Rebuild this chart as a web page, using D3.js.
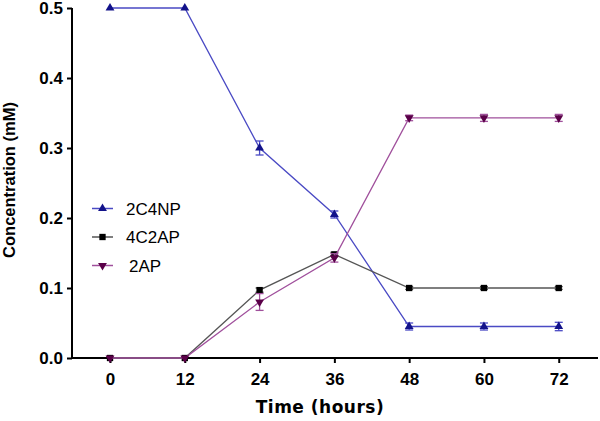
<!DOCTYPE html>
<html><head><meta charset="utf-8">
<script src="https://cdn.jsdelivr.net/npm/d3@7"></script>
<style>body{margin:0;background:#fff}svg{display:block}</style>
</head><body>
<svg id="c" width="600" height="421"></svg>
<script>
const times = [0, 12, 24, 36, 48, 60, 72];
const xTicks = [0, 12, 24, 36, 48, 60, 72];
const yTicks = [0.0, 0.1, 0.2, 0.3, 0.4, 0.5];
const c2c4np = [0.5, 0.5, 0.30, 0.205, 0.045, 0.045, 0.045];
const c2c4npErr = [0, 0, 0.01, 0.005, 0.005, 0.005, 0.006];
const c4c2ap = [0, 0, 0.097, 0.148, 0.1, 0.1, 0.1];
const c4c2apErr = [0, 0, 0.003, 0.003, 0.002, 0.002, 0.002];
const c2ap = [0, 0, 0.08, 0.143, 0.343, 0.343, 0.343];
const c2apErr = [0, 0, 0.012, 0.006, 0.004, 0.005, 0.005];
const seriesNames = ["2C4NP", "4C2AP", "2AP"];

const series = [
  {name: seriesNames[0], vals: c2c4np, err: c2c4npErr, line: "#4a4ac4", mark: "#12128a", sym: "up"},
  {name: seriesNames[1], vals: c4c2ap, err: c4c2apErr, line: "#555555", mark: "#000000", sym: "sq"},
  {name: seriesNames[2], vals: c2ap, err: c2apErr, line: "#a0509c", mark: "#5a0048", sym: "down"}
];

const svg = d3.select("#c");
const x = d3.scaleLinear().domain([-6.1, 78.3]).range([72, 598]);
const y = d3.scaleLinear().domain([0, 0.5]).range([358, 8]);
const font = "Arial, 'Liberation Sans', sans-serif";

// axes
const ya = svg.append("g").attr("transform", "translate(72,0)")
  .call(d3.axisLeft(y).tickValues(yTicks).tickFormat(d3.format(".1f")).tickSize(5).tickSizeOuter(0));
const xa = svg.append("g").attr("transform", "translate(0,358)")
  .call(d3.axisBottom(x).tickValues(xTicks).tickSize(5).tickSizeOuter(0));
[ya, xa].forEach(a => {
  a.select(".domain").attr("stroke", "#000").attr("stroke-width", 2);
  a.selectAll(".tick line").attr("stroke", "#000").attr("stroke-width", 2);
  a.selectAll("text").attr("font-family", font).attr("font-weight", "bold").attr("font-size", 17).attr("fill", "#000");
});
ya.select(".domain").attr("d", "M0,358V8");
xa.select(".domain").attr("d", "M72,0H598");
ya.selectAll("text").attr("x", -9).attr("dy", "0.34em");
xa.selectAll("text").attr("y", 15);

svg.append("text").attr("x", 320).attr("y", 413).attr("text-anchor", "middle")
  .attr("font-family", "Verdana, 'DejaVu Sans', sans-serif").attr("font-weight", "bold").attr("font-size", 17)
  .attr("letter-spacing", 0.5).text("Time (hours)");
svg.append("text").attr("transform", "translate(14.5,180) rotate(-90)").attr("text-anchor", "middle")
  .attr("font-family", font).attr("font-weight", "bold").attr("font-size", 16.5).text("Concentration (mM)");

const tri = d3.symbol().type(d3.symbolTriangle).size(34);
const sq = d3.symbol().type(d3.symbolSquare).size(40);
function marker(g, s, cx, cy) {
  if (s.sym === "sq") {
    g.append("path").attr("d", sq()).attr("transform", `translate(${cx},${cy})`).attr("fill", s.mark);
  } else {
    g.append("path").attr("d", tri()).attr("transform", `translate(${cx},${cy}) rotate(${s.sym === "down" ? 180 : 0})`).attr("fill", s.mark);
  }
}

const line = d3.line().x((d, i) => x(times[i])).y(d => y(d));
series.forEach(s => {
  const g = svg.append("g");
  g.append("path").datum(s.vals).attr("d", line).attr("fill", "none").attr("stroke", s.line).attr("stroke-width", 1.3);
  s.vals.forEach((v, i) => {
    const e = s.err[i];
    if (e > 0) {
      const cx = x(times[i]);
      g.append("line").attr("x1", cx).attr("x2", cx).attr("y1", y(v - e)).attr("y2", y(v + e)).attr("stroke", s.line).attr("stroke-width", 1.3);
      [v - e, v + e].forEach(t => g.append("line").attr("x1", cx - 4).attr("x2", cx + 4).attr("y1", y(t)).attr("y2", y(t)).attr("stroke", s.line).attr("stroke-width", 1.3));
    }
    marker(g, s, x(times[i]), y(v));
  });
});

// legend
const lg = svg.append("g");
series.forEach((s, i) => {
  const ly = 208.5 + i * 28.5;
  lg.append("line").attr("x1", 92).attr("x2", 113).attr("y1", ly).attr("y2", ly).attr("stroke", s.line).attr("stroke-width", 1.5);
  marker(lg, s, 102.5, ly);
  lg.append("text").attr("x", i === 2 ? 129 : 126).attr("y", ly + 6).attr("font-family", font).attr("font-size", 17).text(s.name);
});
</script>
</body></html>
